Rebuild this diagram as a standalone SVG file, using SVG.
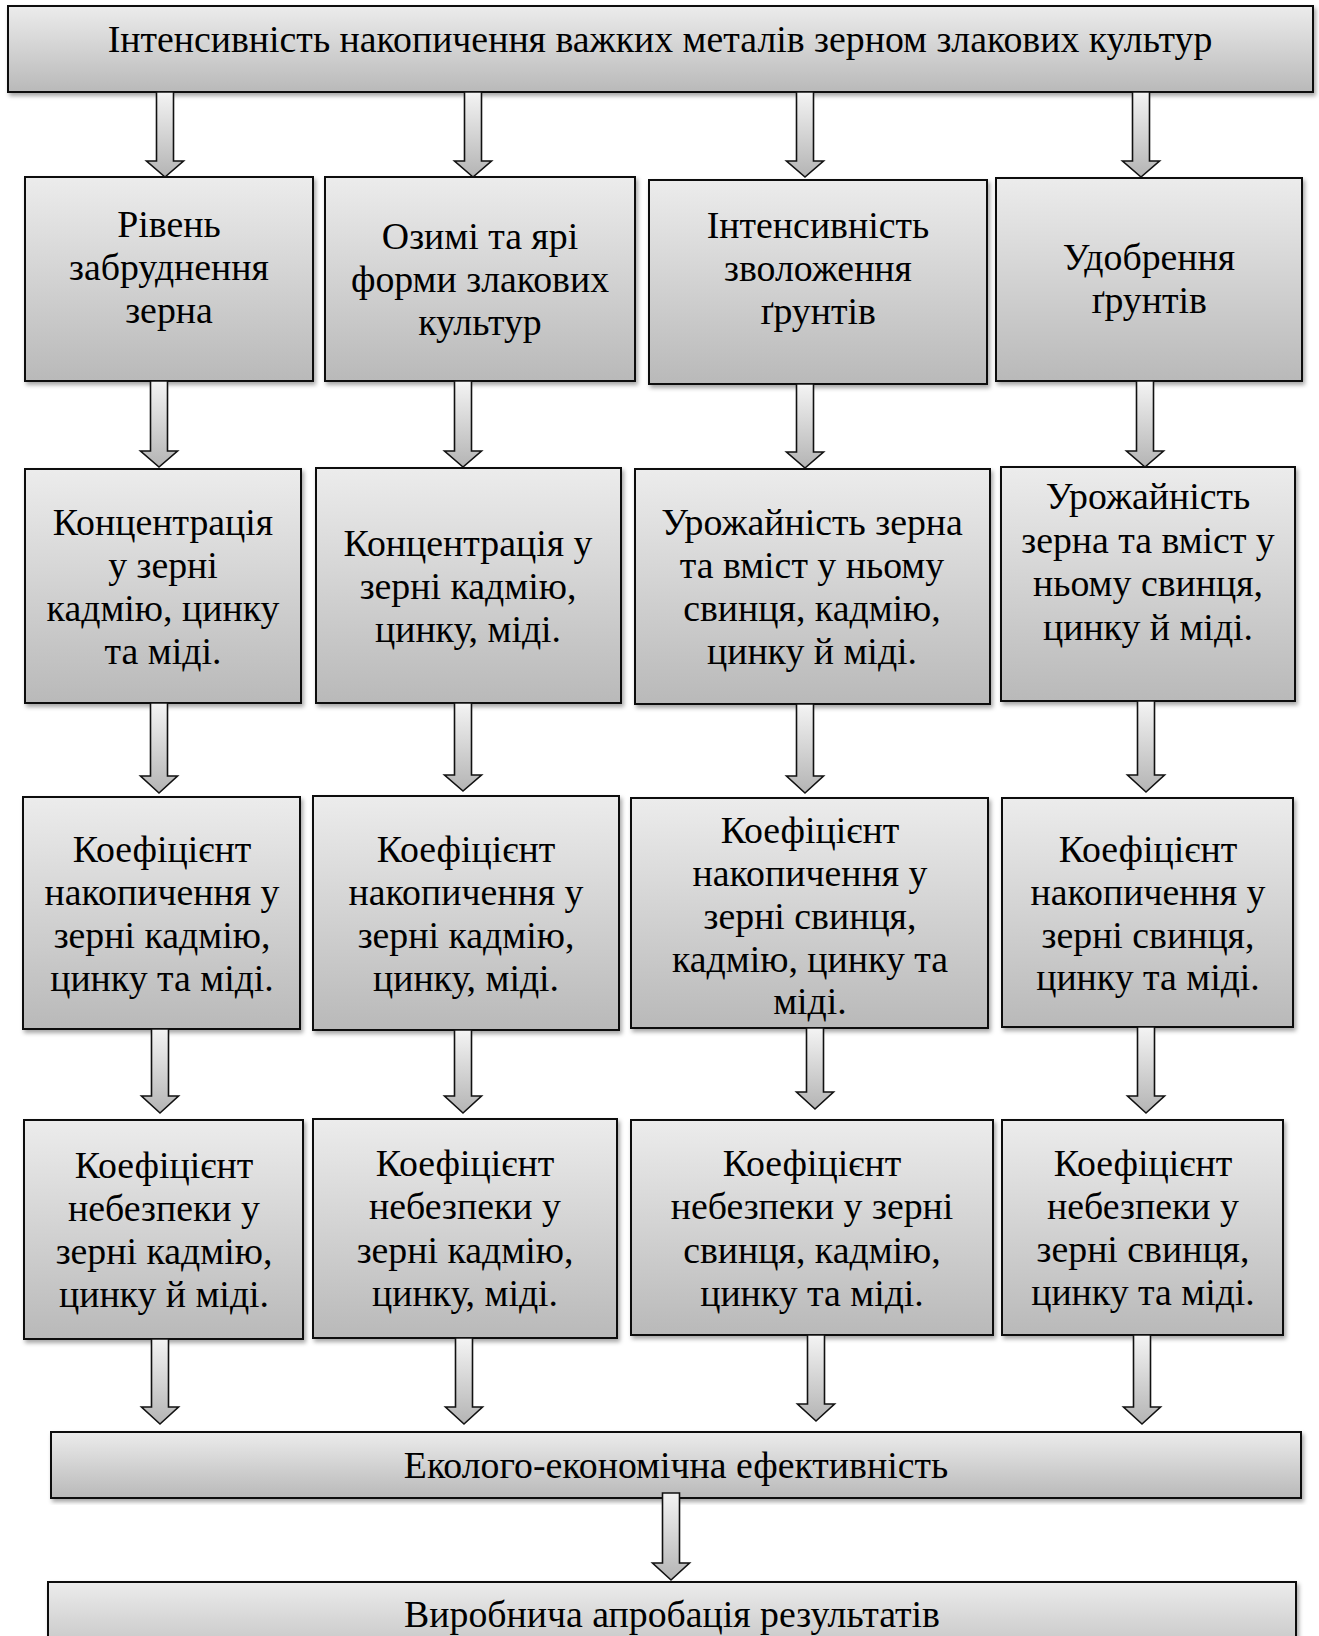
<svg xmlns="http://www.w3.org/2000/svg" width="1319" height="1636" viewBox="0 0 1319 1636">
<defs>
<linearGradient id="boxGrad" x1="0" y1="0" x2="0" y2="1">
<stop offset="0" stop-color="#ececec"/>
<stop offset="1" stop-color="#b9b9b9"/>
</linearGradient>
<linearGradient id="arrGrad" x1="0" y1="0" x2="0" y2="1">
<stop offset="0" stop-color="#f4f4f4"/>
<stop offset="1" stop-color="#b4b4b4"/>
</linearGradient>
<filter id="shadow" x="-5%" y="-5%" width="112%" height="115%">
<feDropShadow dx="2" dy="3" stdDeviation="2" flood-color="#000" flood-opacity="0.35"/>
</filter>
</defs>
<style>
.box{fill:url(#boxGrad);stroke:#111;stroke-width:2;filter:url(#shadow);}
.arr{fill:url(#arrGrad);stroke:#111;stroke-width:1.6;stroke-linejoin:miter;}
text{font-family:"Liberation Serif","Times New Roman",serif;font-size:37.8px;fill:#000;text-anchor:middle;}
</style>
<rect width="1319" height="1636" fill="#fff"/>

<g id="n-top">
<rect class="box" x="8" y="6" width="1305" height="86"/>
<text x="660" y="52">Інтенсивність накопичення важких металів зерном злакових культур</text>
</g>

<g id="n-b1">
<rect class="box" x="25" y="177" width="288" height="204"/>
<text x="169" y="237">Рівень</text>
<text x="169" y="280">забруднення</text>
<text x="169" y="323">зерна</text>
</g>
<g id="n-b2">
<rect class="box" x="325" y="177" width="310" height="204"/>
<text x="480" y="249">Озимі та ярі</text>
<text x="480" y="292">форми злакових</text>
<text x="480" y="335">культур</text>
</g>
<g id="n-b3">
<rect class="box" x="649" y="180" width="338" height="204"/>
<text x="818" y="238">Інтенсивність</text>
<text x="818" y="281">зволоження</text>
<text x="818" y="324">ґрунтів</text>
</g>
<g id="n-b4">
<rect class="box" x="996" y="178" width="306" height="203"/>
<text x="1149" y="270">Удобрення</text>
<text x="1149" y="313">ґрунтів</text>
</g>

<g id="n-c1">
<rect class="box" x="25" y="469" width="276" height="234"/>
<text x="163" y="535">Концентрація</text>
<text x="163" y="578">у зерні</text>
<text x="163" y="621">кадмію, цинку</text>
<text x="163" y="664">та міді.</text>
</g>
<g id="n-c2">
<rect class="box" x="316" y="468" width="305" height="235"/>
<text x="468" y="556">Концентрація у</text>
<text x="468" y="599">зерні кадмію,</text>
<text x="468" y="642">цинку, міді.</text>
</g>
<g id="n-c3">
<rect class="box" x="635" y="469" width="355" height="235"/>
<text x="812" y="535">Урожайність зерна</text>
<text x="812" y="578">та вміст у ньому</text>
<text x="812" y="621">свинця, кадмію,</text>
<text x="812" y="664">цинку й міді.</text>
</g>
<g id="n-c4">
<rect class="box" x="1001" y="467" width="294" height="234"/>
<text x="1148" y="509">Урожайність</text>
<text x="1148" y="553">зерна та вміст у</text>
<text x="1148" y="596">ньому свинця,</text>
<text x="1148" y="640">цинку й міді.</text>
</g>

<g id="n-d1">
<rect class="box" x="23" y="797" width="277" height="232"/>
<text x="162" y="862">Коефіцієнт</text>
<text x="162" y="905">накопичення у</text>
<text x="162" y="948">зерні кадмію,</text>
<text x="162" y="991">цинку та міді.</text>
</g>
<g id="n-d2">
<rect class="box" x="313" y="796" width="306" height="234"/>
<text x="466" y="862">Коефіцієнт</text>
<text x="466" y="905">накопичення у</text>
<text x="466" y="948">зерні кадмію,</text>
<text x="466" y="991">цинку, міді.</text>
</g>
<g id="n-d3">
<rect class="box" x="631" y="798" width="357" height="230"/>
<text x="810" y="843">Коефіцієнт</text>
<text x="810" y="886">накопичення у</text>
<text x="810" y="929">зерні свинця,</text>
<text x="810" y="972">кадмію, цинку та</text>
<text x="810" y="1014">міді.</text>
</g>
<g id="n-d4">
<rect class="box" x="1002" y="798" width="291" height="229"/>
<text x="1148" y="862">Коефіцієнт</text>
<text x="1148" y="905">накопичення у</text>
<text x="1148" y="948">зерні свинця,</text>
<text x="1148" y="990">цинку та міді.</text>
</g>

<g id="n-e1">
<rect class="box" x="24" y="1120" width="279" height="219"/>
<text x="164" y="1178">Коефіцієнт</text>
<text x="164" y="1221">небезпеки у</text>
<text x="164" y="1264">зерні кадмію,</text>
<text x="164" y="1307">цинку й міді.</text>
</g>
<g id="n-e2">
<rect class="box" x="313" y="1119" width="304" height="219"/>
<text x="465" y="1176">Коефіцієнт</text>
<text x="465" y="1219">небезпеки у</text>
<text x="465" y="1263">зерні кадмію,</text>
<text x="465" y="1306">цинку, міді.</text>
</g>
<g id="n-e3">
<rect class="box" x="631" y="1120" width="362" height="215"/>
<text x="812" y="1176">Коефіцієнт</text>
<text x="812" y="1219">небезпеки у зерні</text>
<text x="812" y="1263">свинця, кадмію,</text>
<text x="812" y="1306">цинку та міді.</text>
</g>
<g id="n-e4">
<rect class="box" x="1002" y="1120" width="281" height="215"/>
<text x="1143" y="1176">Коефіцієнт</text>
<text x="1143" y="1219">небезпеки у</text>
<text x="1143" y="1262">зерні свинця,</text>
<text x="1143" y="1305">цинку та міді.</text>
</g>

<g id="n-f">
<rect class="box" x="51" y="1432" width="1250" height="66"/>
<text x="676" y="1478">Еколого-економічна ефективність</text>
</g>
<g id="n-g">
<rect class="box" x="48" y="1582" width="1248" height="90"/>
<text x="672" y="1627">Виробнича апробація результатів</text>
</g>

<g id="connectors">
<path class="arr" d="M156.5,92H173.5V161H183.5L165,177L146.5,161H156.5Z"/>
<path class="arr" d="M464.5,92H481.5V161H491.5L473,177L454.5,161H464.5Z"/>
<path class="arr" d="M796.5,92H813.5V161H823.5L805,177L786.5,161H796.5Z"/>
<path class="arr" d="M1132.5,92H1149.5V161H1159.5L1141,177L1122.5,161H1132.5Z"/>

<path class="arr" d="M150.5,381H167.5V451H177.5L159,467L140.5,451H150.5Z"/>
<path class="arr" d="M454.5,381H471.5V451H481.5L463,467L444.5,451H454.5Z"/>
<path class="arr" d="M796.5,384H813.5V452H823.5L805,468L786.5,452H796.5Z"/>
<path class="arr" d="M1136.5,381H1153.5V451H1163.5L1145,467L1126.5,451H1136.5Z"/>

<path class="arr" d="M150.5,703H167.5V776H177.5L159,793L140.5,776H150.5Z"/>
<path class="arr" d="M454.5,703H471.5V775H481.5L463,791L444.5,775H454.5Z"/>
<path class="arr" d="M796.5,704H813.5V776H823.5L805,793L786.5,776H796.5Z"/>
<path class="arr" d="M1137.5,701H1154.5V775H1164.5L1146,792L1127.5,775H1137.5Z"/>

<path class="arr" d="M151.5,1029H168.5V1096H178.5L160,1113L141.5,1096H151.5Z"/>
<path class="arr" d="M454.5,1030H471.5V1096H481.5L463,1113L444.5,1096H454.5Z"/>
<path class="arr" d="M806.5,1028H823.5V1092H833.5L815,1109L796.5,1092H806.5Z"/>
<path class="arr" d="M1137.5,1027H1154.5V1096H1164.5L1146,1113L1127.5,1096H1137.5Z"/>

<path class="arr" d="M151.5,1339H168.5V1407H178.5L160,1424L141.5,1407H151.5Z"/>
<path class="arr" d="M455.5,1338H472.5V1407H482.5L464,1424L445.5,1407H455.5Z"/>
<path class="arr" d="M807.5,1335H824.5V1404H834.5L816,1421L797.5,1404H807.5Z"/>
<path class="arr" d="M1133.5,1335H1150.5V1407H1160.5L1142,1424L1123.5,1407H1133.5Z"/>

<path class="arr" d="M662.5,1493H679.5V1563H689.5L671,1580L652.5,1563H662.5Z"/>
</g>
</svg>
